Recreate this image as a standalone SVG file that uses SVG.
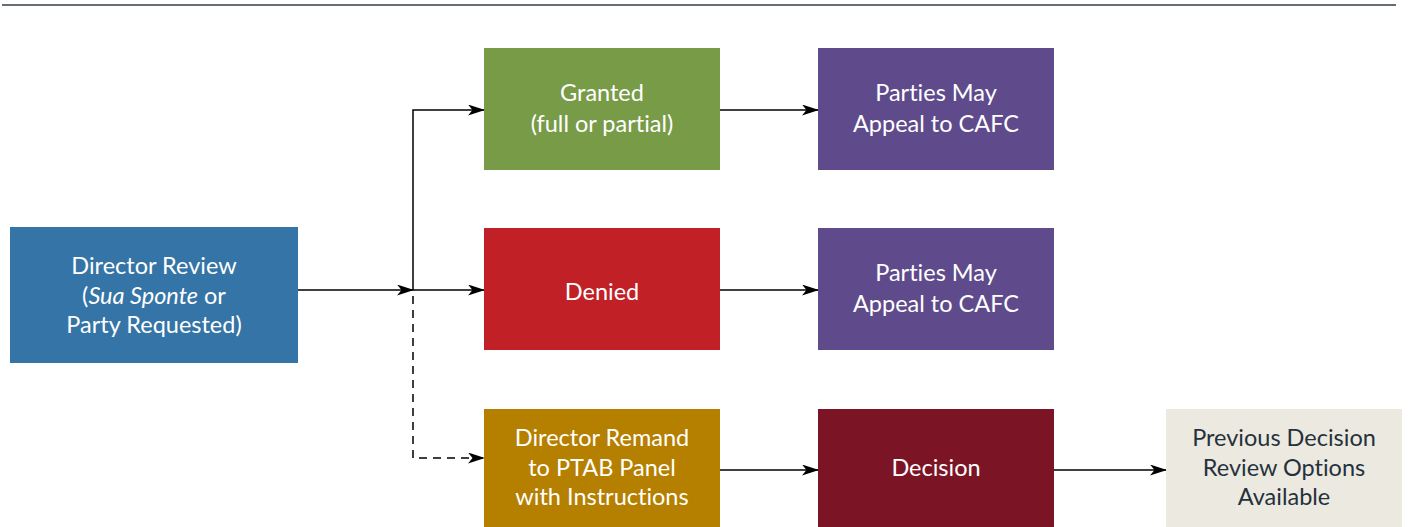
<svg xmlns="http://www.w3.org/2000/svg" width="1408" height="527" viewBox="0 0 1408 527">
  <style>
    .lbl { font-family: Lato, "Open Sans", "Liberation Sans", sans-serif; font-size: 23.5px; fill: #ffffff; text-anchor: middle; font-variant-ligatures: none; }
    .dark { fill: #25313d; }
    .edge { fill: none; stroke: #000000; stroke-width: 1.5; }
    .dash { stroke-dasharray: 8 6; }
  </style>
  <defs>
    <marker id="arrow" viewBox="0 0 17 11" refX="16" refY="5.5" markerWidth="17" markerHeight="11" markerUnits="userSpaceOnUse" orient="auto">
      <path d="M0,0 L17,5.5 L0,11 L4.5,5.5 Z" fill="#000000"/>
    </marker>
  </defs>

  <rect width="1408" height="527" fill="#ffffff"/>
  <!-- header rule -->
  <line x1="2" y1="5" x2="1396" y2="5" stroke="#333d47" stroke-width="1.6"/>

  <g id="connectors">
    <path class="edge" d="M298,290 H413" marker-end="url(#arrow)"/>
    <path class="edge" d="M413,290 V110 H484" marker-end="url(#arrow)"/>
    <path class="edge" d="M413,290 H484" marker-end="url(#arrow)"/>
    <path class="edge dash" d="M413,296 V458 H484" marker-end="url(#arrow)"/>
    <path class="edge" d="M720,110 H818" marker-end="url(#arrow)"/>
    <path class="edge" d="M720,290 H818" marker-end="url(#arrow)"/>
    <path class="edge" d="M720,470 H818" marker-end="url(#arrow)"/>
    <path class="edge" d="M1054,470 H1166" marker-end="url(#arrow)"/>
  </g>

  <g id="director-review">
    <rect x="10" y="227" width="288" height="136" fill="#3574a6"/>
    <text class="lbl" x="154" y="274">Director Review</text>
    <text class="lbl" x="154" y="304">(<tspan font-style="italic">Sua Sponte</tspan> or</text>
    <text class="lbl" x="154" y="333">Party Requested)</text>
  </g>

  <g id="granted">
    <rect x="484" y="48" width="236" height="122" fill="#789b48"/>
    <text class="lbl" x="602" y="101">Granted</text>
    <text class="lbl" x="602" y="132">(full or partial)</text>
  </g>

  <g id="denied">
    <rect x="484" y="228" width="236" height="122" fill="#c02026"/>
    <text class="lbl" x="602" y="300">Denied</text>
  </g>

  <g id="remand">
    <rect x="484" y="409" width="236" height="118" fill="#b57f00"/>
    <text class="lbl" x="602" y="446">Director Remand</text>
    <text class="lbl" x="602" y="476">to PTAB Panel</text>
    <text class="lbl" x="602" y="505">with Instructions</text>
  </g>

  <g id="appeal-granted">
    <rect x="818" y="48" width="236" height="122" fill="#5f4b8b"/>
    <text class="lbl" x="936" y="101">Parties May</text>
    <text class="lbl" x="936" y="132">Appeal to CAFC</text>
  </g>

  <g id="appeal-denied">
    <rect x="818" y="228" width="236" height="122" fill="#5f4b8b"/>
    <text class="lbl" x="936" y="281">Parties May</text>
    <text class="lbl" x="936" y="312">Appeal to CAFC</text>
  </g>

  <g id="decision">
    <rect x="818" y="409" width="236" height="118" fill="#7b1424"/>
    <text class="lbl" x="936" y="476">Decision</text>
  </g>

  <g id="previous-options">
    <rect x="1166" y="409" width="236" height="118" fill="#ece9e0"/>
    <text class="lbl dark" x="1284" y="446">Previous Decision</text>
    <text class="lbl dark" x="1284" y="476">Review Options</text>
    <text class="lbl dark" x="1284" y="505">Available</text>
  </g>
</svg>
